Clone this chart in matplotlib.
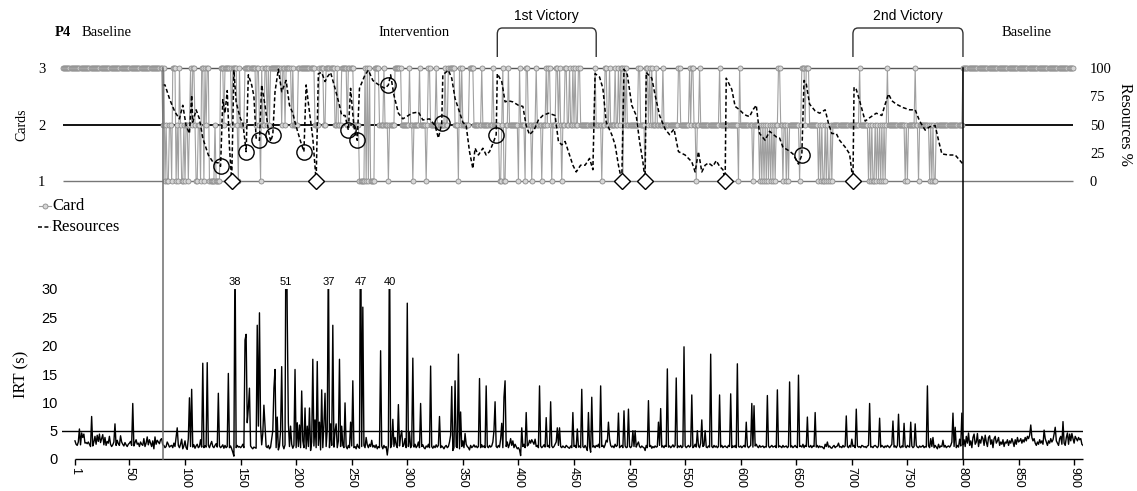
import numpy as np
import matplotlib
matplotlib.use("Agg")
import matplotlib.pyplot as plt
import matplotlib.transforms as mtransforms
from matplotlib.lines import Line2D
from matplotlib.path import Path
from matplotlib.patches import PathPatch

SERIF = "Liberation Serif"
SANS = "Liberation Sans"

# ---------------- data ----------------
phase_edges = [80, 800]          # baseline | intervention | baseline
victory_1 = (381, 470)
victory_2 = (701, 800)

# card chosen on every trial (3, 2 or 1); top panel starts a little left of trial 1
card_first_trial = -10
card_baseline_1 = [3] * 90       # trials -10 .. 79
card_intervention = [            # trials 80 .. 799, ten trials per block
    "2312112213", "3312132112", "1221232332", "1122133132", "3311111211",
    "1133323333", "3323333213", "2222333333", "3333233213", "2233232333",
    "3333333233", "2333332322", "2233333333", "3333333222", "2333322333",
    "3333322322", "2333332333", "3322222111", "1131313111", "1333322223",
    "2221222223", "3333322222", "2232212222", "2322222123", "3222223222",
    "2222322333", "3332221323", "2222223333", "2222222322", "2222222322",
    "2221123112", "2322222222", "1322221332", "2212223222", "2122232332",
    "1222332321", "2233223223", "2322332222", "2222222223", "2222212233",
    "2232222322", "3233132322", "2222222233", "2222133232", "3222322222",
    "3222222222", "2222332222", "2222323322", "1223222222", "2222222222",
    "2322222222", "2222222213", "2222222222", "2122222121", "2121212121",
    "2122332212", "2121222222", "2221233323", "3322222222", "1212112121",
    "1212222222", "2222222222", "2222222322", "2222212121", "1212121212",
    "1232222222", "2222222212", "1222222322", "1222222222", "1212112222",
    "2222222222", "2222222222",
]
card_baseline_2 = [3] * 100      # trials 800 .. 899

# resources % (dashed line vertices)
res_trial = [
    80, 82, 86, 88, 91, 95, 98, 101, 104, 106,
    107, 110, 113, 116, 121, 125, 130, 132, 134, 136,
    138, 140, 142, 144, 146, 148, 150, 152, 155, 157,
    160, 162, 164, 167, 169, 172, 175, 177, 179, 181,
    184, 187, 191, 194, 197, 199, 201, 204, 207, 209,
    212, 215, 218, 220, 223, 226, 228, 231, 235, 239,
    241, 244, 247, 249, 252, 255, 257, 262, 265, 269,
    273, 276, 280, 283, 285, 288, 292, 296, 301, 304,
    310, 314, 320, 325, 328, 331, 332, 337, 340, 343,
    346, 350, 353, 356, 359, 361, 364, 368, 371, 374,
    377, 380, 381, 385, 388, 391, 395, 400, 404, 407,
    410, 414, 418, 422, 427, 433, 436, 439, 442, 446,
    449, 452, 456, 460, 464, 467, 469, 473, 476, 479,
    484, 487, 490, 493, 495, 498, 502, 506, 509, 512,
    514, 515, 520, 523, 527, 532, 536, 540, 544, 550,
    556, 559, 562, 565, 568, 571, 575, 578, 581, 584,
    586, 587, 592, 595, 599, 602, 605, 608, 611, 614,
    617, 622, 626, 632, 635, 638, 643, 647, 652, 655,
    657, 659, 662, 667, 671, 676, 679, 682, 686, 689,
    694, 698, 701, 702, 704, 707, 712, 716, 722, 727,
    730, 733, 736, 740, 746, 752, 757, 761, 766, 770,
    775, 778, 781, 787, 793, 800,
]
res_value = [
    85, 85, 73, 68, 61, 55, 67, 49, 42, 76,
    52, 63, 55, 38, 23, 17, 16, 13, 72, 60,
    80, 30, 0, 98, 70, 62, 55, 52, 26, 94,
    85, 75, 38, 36, 85, 67, 45, 35, 41, 79,
    99, 79, 89, 67, 60, 52, 45, 35, 26, 85,
    61, 38, 0, 95, 96, 88, 92, 96, 82, 67,
    58, 58, 45, 82, 48, 36, 82, 94, 98, 89,
    86, 84, 82, 85, 94, 76, 60, 55, 58, 60,
    61, 54, 55, 49, 38, 51, 94, 98, 91, 73,
    64, 52, 49, 26, 11, 29, 23, 29, 23, 26,
    33, 41, 95, 88, 70, 71, 70, 67, 66, 49,
    41, 45, 54, 58, 60, 58, 35, 32, 35, 23,
    14, 8, 14, 14, 20, 10, 95, 92, 82, 52,
    41, 32, 14, 0, 99, 94, 67, 58, 35, 17,
    0, 96, 91, 76, 58, 46, 41, 46, 26, 23,
    17, 8, 26, 8, 14, 16, 13, 18, 13, 10,
    0, 91, 81, 66, 63, 60, 58, 57, 63, 67,
    42, 36, 44, 39, 38, 30, 27, 24, 15, 23,
    89, 86, 68, 62, 60, 63, 51, 42, 42, 36,
    30, 24, 0, 83, 81, 71, 53, 56, 60, 58,
    68, 77, 71, 68, 65, 63, 63, 53, 45, 48,
    49, 36, 24, 23, 23, 15,
]

# circled and diamond-marked points on the resources line
circle_trial = [132, 155, 167, 179, 207, 247, 255, 283, 331, 380, 655]
circle_value = [13, 26, 36, 41, 26, 45, 36, 85, 51, 41, 23]
diamond_trial = [142, 218, 493, 514, 586, 701]

# inter-response time (s), trials 1 .. 908
irt = [
    3.2, 2.6, 2.4, 3.0, 5.3, 2.5, 4.6, 3.8, 4.4, 2.8,
    2.9, 2.7, 3.0, 2.6, 2.2, 7.5, 2.3, 3.0, 4.0, 2.6,
    4.2, 3.1, 4.4, 2.9, 3.6, 4.3, 2.5, 3.8, 2.4, 3.1,
    2.8, 4.0, 2.6, 2.2, 2.5, 3.0, 6.2, 2.4, 3.3, 2.7,
    2.4, 4.1, 3.0, 2.6, 2.3, 2.9, 2.5, 2.2, 2.6, 2.8,
    3.1, 2.4, 9.8, 2.3, 2.9, 3.4, 2.6, 2.8, 2.2, 3.0,
    2.6, 2.4, 3.6, 2.2, 2.8, 3.9, 2.5, 3.4, 2.8, 2.2,
    3.2, 1.8, 3.9, 2.6, 3.3, 3.0, 2.7, 3.4, 3.6, 2.5,
    # 81 - 200
    2.4, 2.0, 2.2, 3.0, 2.6, 2.1, 2.3, 2.4, 2.0, 2.8,
    2.2, 3.9, 5.5, 2.4, 2.0, 2.6, 3.5, 1.8, 2.3, 3.2,
    2.0, 1.7, 3.6, 10.8, 2.2, 12.3, 2.1, 2.5, 1.9, 2.3,
    2.6, 2.0, 2.2, 3.4, 2.1, 16.9, 2.0, 2.3, 2.1, 17.0,
    2.4, 2.0, 2.6, 3.1, 2.2, 2.0, 2.4, 2.7, 2.1, 11.6,
    2.3, 2.0, 2.2, 2.5, 1.9, 2.4, 2.0, 2.2, 15.1, 2.0,
    2.3, 1.8, 1.2, 0.5, 38, 2.0, 2.4, 2.1, 2.2, 2.0,
    2.2, 2.6, 2.0, 21.0, 22.0, 6.4, 9.0, 12.5, 2.3, 2.0,
    1.8, 2.1, 2.0, 1.9, 23.6, 5.8, 25.8, 6.0, 2.5, 4.5,
    9.5, 6.0, 2.2, 2.0, 2.4, 1.8, 2.1, 3.5, 5.0, 12.5,
    15.8, 2.0, 7.4, 1.6, 2.3, 5.0, 16.3, 2.4, 1.8, 2.5,
    51, 25.1, 6.4, 2.2, 5.8, 2.6, 1.9, 2.4, 15.8, 2.0,
    # 201 - 300
    6.4, 2.2, 6.0, 2.0, 12.0, 3.2, 2.0, 9.0, 1.8, 5.8,
    2.2, 9.0, 1.5, 3.0, 17.6, 2.3, 6.9, 2.0, 17.2, 2.4,
    6.5, 1.6, 12.2, 2.0, 6.0, 11.6, 2.2, 5.2, 37, 2.0,
    6.2, 2.4, 23.6, 2.1, 5.0, 6.2, 2.0, 3.2, 17.6, 2.2,
    5.8, 2.4, 2.0, 9.9, 2.2, 1.8, 2.4, 2.0, 6.5, 2.3,
    13.8, 2.0, 2.2, 1.8, 2.6, 2.1, 1.9, 47, 2.2, 26.8,
    2.4, 2.0, 3.8, 2.5, 2.0, 2.6, 2.2, 3.3, 2.1, 2.4,
    2.0, 2.5, 1.8, 2.2, 2.0, 19.1, 2.3, 1.8, 2.4, 2.0,
    2.2, 0.7, 2.4, 40, 2.0, 2.6, 7.0, 2.2, 3.8, 2.5,
    2.0, 9.6, 2.3, 4.0, 5.0, 2.2, 2.5, 3.6, 2.0, 27.5,
    # 301 - 400
    2.2, 4.8, 2.0, 2.4, 17.8, 2.1, 2.6, 2.0, 2.3, 3.0,
    2.0, 9.8, 2.2, 2.5, 2.0, 1.8, 2.3, 2.1, 2.6, 2.0,
    16.4, 2.2, 1.9, 2.3, 2.0, 2.5, 2.1, 2.4, 7.5, 2.0,
    2.3, 2.1, 1.8, 2.2, 2.4, 2.0, 2.2, 3.0, 4.2, 12.8,
    1.5, 2.0, 13.8, 2.2, 2.0, 18.5, 1.8, 8.3, 2.2, 3.2,
    2.0, 4.5, 2.6, 2.2, 2.0, 1.6, 2.4, 2.0, 2.2, 2.5,
    2.1, 2.3, 2.0, 2.2, 14.2, 2.0, 2.5, 2.1, 2.3, 2.0,
    12.9, 2.2, 2.0, 2.4, 2.1, 2.3, 3.0, 5.0, 10.1, 2.2,
    2.0, 2.4, 2.1, 3.5, 6.3, 2.0, 10.9, 13.8, 2.2, 3.0,
    2.0, 2.6, 3.6, 2.4, 3.2, 2.0, 2.6, 2.2, 1.8, 2.0,
    # 401 - 500
    1.6, 0.6, 5.5, 2.2, 2.6, 2.0, 8.2, 2.3, 2.5, 3.3,
    2.8, 3.4, 3.0, 2.6, 3.5, 2.2, 2.4, 2.0, 12.9, 2.3,
    2.0, 2.2, 2.5, 2.1, 7.3, 2.2, 2.4, 2.0, 10.1, 2.3,
    2.0, 2.2, 2.6, 3.0, 5.5, 2.4, 5.5, 2.2, 2.0, 2.3,
    2.1, 2.0, 2.4, 2.2, 2.0, 1.9, 2.3, 2.0, 8.2, 2.2,
    2.4, 2.0, 5.3, 2.1, 2.3, 2.0, 12.3, 2.2, 2.0, 2.4,
    2.0, 1.5, 8.2, 2.2, 1.2, 10.9, 2.1, 2.3, 2.0, 2.4,
    2.2, 2.6, 2.0, 12.9, 2.2, 2.4, 2.0, 2.5, 3.3, 3.0,
    6.5, 3.6, 2.4, 2.1, 2.3, 2.0, 2.6, 2.2, 2.4, 8.1,
    2.0, 2.2, 2.4, 2.0, 8.5, 2.3, 2.0, 2.1, 8.8, 2.2,
    # 501 - 600
    2.0, 2.3, 5.0, 2.2, 5.0, 2.1, 2.6, 3.0, 2.2, 2.0,
    2.3, 2.1, 2.0, 1.5, 2.4, 2.0, 10.3, 2.2, 2.4, 1.9,
    2.2, 2.0, 2.3, 2.1, 2.2, 6.5, 2.4, 8.9, 2.1, 2.3,
    2.0, 2.4, 2.2, 15.9, 2.1, 2.3, 2.0, 2.2, 2.5, 2.1,
    2.4, 14.3, 2.0, 2.3, 2.1, 2.4, 2.0, 2.2, 19.8, 2.3,
    2.0, 2.2, 2.4, 2.1, 2.3, 11.3, 2.0, 2.2, 2.6, 2.1,
    5.0, 2.3, 2.0, 2.8, 6.9, 2.2, 2.4, 5.0, 2.1, 2.0,
    2.3, 2.1, 18.5, 2.2, 2.0, 2.4, 2.1, 2.3, 2.0, 2.2,
    11.3, 2.1, 2.4, 2.0, 2.2, 2.3, 2.1, 2.0, 2.4, 2.2,
    11.5, 2.0, 2.3, 2.1, 2.4, 2.0, 16.8, 2.2, 2.1, 2.3,
    # 601 - 700
    2.0, 2.2, 2.4, 2.1, 6.5, 2.3, 2.0, 2.2, 2.4, 9.8,
    2.1, 9.4, 2.3, 2.6, 2.2, 2.0, 2.4, 2.1, 2.2, 2.3,
    2.0, 2.2, 2.1, 11.2, 2.3, 2.0, 2.2, 2.4, 2.1, 2.2,
    2.3, 2.0, 12.2, 2.1, 2.3, 2.2, 2.0, 2.4, 2.1, 2.2,
    2.3, 2.0, 2.2, 13.6, 2.1, 2.3, 2.0, 2.2, 2.4, 2.1,
    2.0, 14.8, 2.2, 2.3, 2.1, 2.6, 2.0, 2.4, 2.2, 7.4,
    2.2, 2.1, 2.4, 2.0, 2.3, 2.2, 8.2, 2.1, 2.4, 2.0,
    2.3, 2.1, 2.2, 2.0, 1.8, 2.6, 2.2, 3.0, 2.1, 2.3,
    2.0, 1.9, 2.2, 2.4, 2.0, 2.2, 2.3, 2.8, 2.1, 2.2,
    2.0, 2.4, 2.1, 2.3, 7.6, 2.2, 2.0, 2.4, 2.1, 3.5,
    # 701 - 800
    2.2, 2.4, 2.0, 8.8, 2.3, 2.1, 2.2, 2.0, 2.4, 2.3,
    2.1, 2.2, 2.0, 2.3, 2.4, 9.8, 2.1, 2.2, 2.0, 2.3,
    2.4, 2.2, 2.0, 2.3, 7.2, 2.1, 2.4, 2.2, 2.0, 2.3,
    2.1, 2.4, 2.2, 2.0, 2.3, 2.6, 6.7, 2.1, 2.3, 2.0,
    2.4, 7.9, 2.2, 2.0, 2.3, 2.1, 6.3, 2.2, 2.0, 2.4,
    2.2, 2.1, 6.5, 2.3, 2.0, 2.2, 6.2, 2.4, 2.1, 2.0,
    2.3, 2.1, 2.2, 2.4, 2.0, 2.2, 2.1, 12.9, 2.3, 2.0,
    3.6, 2.2, 3.8, 2.0, 2.4, 2.1, 1.8, 2.6, 2.0, 2.3,
    2.2, 3.3, 2.1, 2.4, 2.0, 2.2, 2.3, 2.1, 2.4, 3.0,
    8.1, 2.2, 5.6, 2.0, 2.4, 2.1, 3.5, 2.3, 8.1, 2.5,
    # 801 - 908
    3.4, 2.2, 4.0, 2.8, 4.6, 2.4, 3.2, 2.0, 3.8, 4.4,
    2.6, 3.0, 4.5, 2.2, 3.4, 2.8, 4.0, 3.6, 2.4, 4.2,
    3.0, 2.2, 3.8, 4.1, 2.6, 3.4, 2.0, 3.6, 4.0, 2.8,
    3.2, 3.8, 2.4, 3.0, 2.6, 3.4, 2.2, 3.0, 2.8, 3.4,
    2.4, 3.2, 2.8, 3.6, 3.0, 2.2, 3.4, 2.6, 3.8, 3.0,
    3.2, 3.6, 2.8, 3.4, 3.0, 3.8, 3.2, 4.0, 3.6, 4.2,
    6.0, 3.8, 3.2, 3.6, 2.8, 2.4, 3.0, 2.6, 3.4, 2.8,
    3.2, 2.6, 5.1, 3.6, 3.0, 2.4, 3.2, 2.8, 3.6, 3.0,
    3.4, 4.4, 5.6, 3.2, 2.8, 2.4, 3.6, 4.0, 2.6, 6.6,
    2.8, 2.4, 3.8, 4.6, 2.6, 4.4, 3.2, 4.5, 3.6, 2.8,
    4.0, 3.6, 3.2, 3.8, 3.4, 3.6, 2.6, 2.4,
]

irt_ticks = [1] + list(range(50, 901, 50))
irt_cap = 30

# ---------------- assemble ----------------
cards = card_baseline_1 + [int(c) for c in "".join(card_intervention)] + card_baseline_2
card_trial = np.arange(card_first_trial, card_first_trial + len(cards))
irt_trial = np.arange(1, len(irt) + 1)

W, H = 1137, 491
fig = plt.figure(figsize=(W / 100, H / 100), dpi=100)


def fx(px):
    return px / W


def fy(py):
    return 1 - py / H


x_lo, x_hi = -10.67, 908.0

ax_top = fig.add_axes([fx(62), fy(181), fx(1083) - fx(62), fy(68) - fy(181)])
ax_res = ax_top.twinx()
ax_irt = fig.add_axes([fx(62), fy(459), fx(1083) - fx(62), fy(289) - fy(459)])

# ---- top panel: cards + resources ----
ax_top.set_xlim(x_lo, x_hi)
ax_top.set_ylim(1, 3)
for a in (ax_top, ax_res):
    for s in a.spines.values():
        s.set_visible(False)
ax_top.set_xticks([])
ax_top.set_yticks([1, 2, 3])
ax_top.tick_params(axis="y", length=0, pad=12, labelsize=10.5)
for lab in ax_top.get_yticklabels():
    lab.set_fontfamily(SERIF)

ax_top.hlines(3, card_trial[0], card_trial[-1], color="#555555", lw=1.0,
              zorder=1, clip_on=False)
ax_top.hlines(2, card_trial[0], card_trial[-1], color="black", lw=1.3, zorder=1)
ax_top.hlines(1, card_trial[0], card_trial[-1], color="#777777", lw=1.0,
              zorder=1, clip_on=False)

ax_top.plot(card_trial, cards, color="#a0a0a0", lw=0.8, marker="o", ms=3.6,
            mfc="#d6d6d6", mec="#8c8c8c", mew=0.6, clip_on=False, zorder=2)
ax_top.set_ylabel("Cards", fontfamily=SERIF, fontsize=10)
ax_top.yaxis.set_label_coords((28 - 62) / 1021, 0.5)

ax_res.set_ylim(0, 100)
ax_res.set_yticks([0, 25, 50, 75, 100])
ax_res.tick_params(axis="y", length=0, pad=5, labelsize=10.5)
for lab in ax_res.get_yticklabels():
    lab.set_fontfamily(SERIF)
ax_res.plot(res_trial, res_value, color="black", lw=1.1, ls=(0, (2.6, 1.6)),
            clip_on=False, zorder=3)
ax_res.plot(circle_trial, circle_value, "o", ms=11, mfc="none", mec="black",
            mew=1.0, clip_on=False, zorder=4)
ax_res.plot(diamond_trial, [0] * len(diamond_trial), "D", ms=8, mfc="white",
            mec="black", mew=1.0, clip_on=False, zorder=4)
ax_res.set_ylabel("Resources %", fontfamily=SERIF, fontsize=11.5, rotation=270,
                  va="center")
ax_res.yaxis.set_label_coords((1125 - 62) / 1021, 0.5)

# ---- bottom panel: IRT ----
ax_irt.set_xlim(x_lo, x_hi)
ax_irt.set_ylim(0, irt_cap)
for s in ax_irt.spines.values():
    s.set_visible(False)
ax_irt.plot(irt_trial, irt, color="black", lw=1.0, zorder=3)
ax_irt.axhline(5, color="black", lw=1.0, zorder=2)
ax_irt.hlines(0, irt_trial[0], irt_trial[-1], color="black", lw=1.0,
              clip_on=False, zorder=2)
ax_irt.set_xticks(irt_ticks)
ax_irt.set_xticklabels([str(t) for t in irt_ticks], rotation=-90,
                       fontfamily=SANS, fontsize=9)
ax_irt.tick_params(axis="x", length=4, width=1, pad=2)
ax_irt.set_yticks(range(0, 31, 5))
ax_irt.tick_params(axis="y", length=0, pad=3, labelsize=10.5)
for lab in ax_irt.get_yticklabels():
    lab.set_fontfamily(SANS)
ax_irt.set_ylabel("IRT (s)", fontfamily=SERIF, fontsize=12)
ax_irt.yaxis.set_label_coords((29 - 62) / 1021, 0.5)

for t, v in zip(irt_trial, irt):
    if v > irt_cap:
        ax_irt.text(t, irt_cap + 0.3, f"{v:g}", ha="center", va="bottom",
                    fontfamily=SANS, fontsize=8, clip_on=False)

# ---- phase lines, brackets, headers ----
trans = mtransforms.blended_transform_factory(ax_irt.transData, fig.transFigure)
for t, col in zip(phase_edges, ["#6e6e6e", "black"]):
    fig.add_artist(Line2D([t, t], [fy(68), fy(459)], transform=trans,
                          color=col, lw=1.1))


def bracket(x0, x1):
    yb, yt = fy(57), fy(28)
    rx, ry = 4.5, 6 / H
    verts = [(x0, yb), (x0, yt - ry), (x0, yt), (x0 + rx, yt),
             (x1 - rx, yt), (x1, yt), (x1, yt - ry), (x1, yb)]
    codes = [Path.MOVETO, Path.LINETO, Path.CURVE3, Path.CURVE3,
             Path.LINETO, Path.CURVE3, Path.CURVE3, Path.LINETO]
    fig.add_artist(PathPatch(Path(verts, codes), transform=trans, fill=False,
                             edgecolor="#333333", lw=1.0))


bracket(*victory_1)
bracket(*victory_2)
fig.text(np.mean(victory_1), fy(16), "1st Victory", transform=trans,
         ha="center", va="center", fontfamily=SANS, fontsize=10)
fig.text(np.mean(victory_2), fy(16), "2nd Victory", transform=trans,
         ha="center", va="center", fontfamily=SANS, fontsize=10)

fig.text(fx(55), fy(32), "P4", fontfamily=SERIF, fontweight="bold",
         fontsize=10.5, va="center")
fig.text(fx(82), fy(32), "Baseline", fontfamily=SERIF, fontsize=10.5, va="center")
fig.text(fx(378), fy(32), "Intervention", fontfamily=SERIF, fontsize=10.5,
         va="center")
fig.text(fx(1002), fy(32), "Baseline", fontfamily=SERIF, fontsize=10.5,
         va="center")

# ---- legend ----
fig.add_artist(Line2D([fx(39), fx(51)], [fy(206), fy(206)], color="#a0a0a0",
                      lw=0.8))
fig.add_artist(Line2D([fx(45)], [fy(206)], marker="o", ms=3.6, mfc="#d6d6d6",
                      mec="#8c8c8c", mew=0.6))
fig.text(fx(52), fy(206), "Card", fontfamily=SERIF, fontsize=12, va="center")
fig.add_artist(Line2D([fx(38), fx(51)], [fy(227), fy(227)], color="black",
                      lw=1.1, ls=(0, (2.6, 1.6))))
fig.text(fx(52), fy(227), "Resources", fontfamily=SERIF, fontsize=12,
         va="center")

fig.savefig("out.png", dpi=100)
